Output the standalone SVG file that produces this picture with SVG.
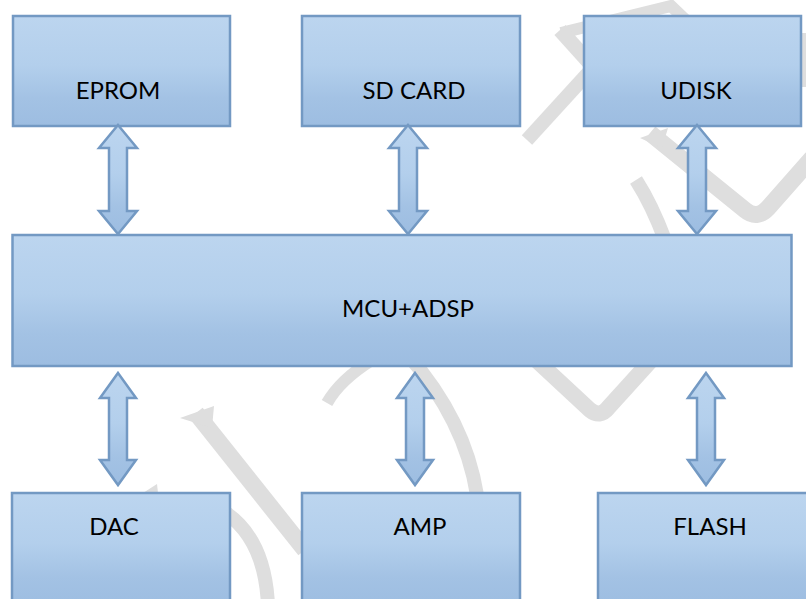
<svg xmlns="http://www.w3.org/2000/svg" width="806" height="599" viewBox="0 0 806 599">
<defs>
<linearGradient id="g" x1="0" y1="0" x2="0" y2="1">
<stop offset="0" stop-color="#bcd5ef"/>
<stop offset="0.45" stop-color="#b3cfec"/>
<stop offset="0.75" stop-color="#a3c2e4"/>
<stop offset="1" stop-color="#9dbde1"/>
</linearGradient>
<style>
.box{fill:url(#g);stroke:#7399c3;stroke-width:2.5}
.arr{fill:url(#g);stroke:#7399c3;stroke-width:2.5;stroke-linejoin:miter}
.lbl{font-family:Lato,"Open Sans","Liberation Sans",sans-serif;font-size:24px;fill:#000;text-anchor:middle}
.wm{fill:none;stroke:#dedede;stroke-linecap:butt}
.wmf{fill:#dedede}
</style>
</defs>
<rect width="806" height="599" fill="#fff"/>
<g id="watermark">
<path class="wm" d="M 561 33 L 671 6 L 712 45" stroke-width="12" stroke-linejoin="miter"/>
<path class="wm" d="M 560 30 L 605 80" stroke-width="15"/>
<path class="wm" d="M 527 140 L 600 60" stroke-width="14"/>
<path class="wm" d="M 650 133 L 745 210 Q 757 220 768 208 L 812 158" stroke-width="17"/>
<polygon class="wmf" points="640,138 668,128 662,148"/>
<path class="wm" d="M 636 180 Q 652 205 665 240" stroke-width="14"/>
<path class="wm" d="M 520 345 L 590 410 Q 600 418 608 408 L 665 345" stroke-width="16"/>
<path class="wm" d="M 327 403 Q 340 380 372 360" stroke-width="12"/>
<path class="wm" d="M 408 355 Q 465 420 477 495" stroke-width="14"/>
<path class="wm" d="M 196 413 L 305 550" stroke-width="17"/>
<polygon class="wmf" points="180,418 214,406 212,428"/>
<path class="wm" d="M 226 513 Q 265 540 268 605" stroke-width="14"/>
<polygon class="wmf" points="143,493 157,484 158,493"/>
<rect class="wmf" x="802" y="33" width="4" height="54"/>
</g>
<g id="node-eprom">
<rect class="box" x="13" y="16" width="217" height="110"/>
<text class="lbl" x="118" y="99">EPROM</text>
</g>
<g id="node-sdcard">
<rect class="box" x="302" y="16" width="218" height="110"/>
<text class="lbl" x="414" y="99">SD CARD</text>
</g>
<g id="node-udisk">
<rect class="box" x="584" y="16" width="217" height="110"/>
<text class="lbl" x="696" y="99">UDISK</text>
</g>
<g id="node-mcu">
<rect class="box" x="12.5" y="235" width="779" height="131"/>
<text class="lbl" x="408" y="317">MCU+ADSP</text>
</g>
<g id="node-dac">
<rect class="box" x="12" y="493" width="218" height="112"/>
<text class="lbl" x="114" y="535">DAC</text>
</g>
<g id="node-amp">
<rect class="box" x="302" y="493" width="218" height="112"/>
<text class="lbl" x="420" y="535">AMP</text>
</g>
<g id="node-flash">
<rect class="box" x="598" y="493" width="222" height="112"/>
<text class="lbl" x="710" y="535">FLASH</text>
</g>
<g id="connectors">
<path class="arr" d="M 118 125 L 137 148 L 127 148 L 127 211 L 137 211 L 118 234 L 99 211 L 109 211 L 109 148 L 99 148 Z"/>
<path class="arr" d="M 408 125 L 427 148 L 417 148 L 417 211 L 427 211 L 408 234 L 389 211 L 399 211 L 399 148 L 389 148 Z"/>
<path class="arr" d="M 697 125 L 716 148 L 706 148 L 706 211 L 716 211 L 697 234 L 678 211 L 688 211 L 688 148 L 678 148 Z"/>
<path class="arr" d="M 118 373 L 136 398 L 127 398 L 127 460 L 136 460 L 118 485 L 100 460 L 109 460 L 109 398 L 100 398 Z"/>
<path class="arr" d="M 415 373 L 433 398 L 424 398 L 424 460 L 433 460 L 415 485 L 397 460 L 406 460 L 406 398 L 397 398 Z"/>
<path class="arr" d="M 706 373 L 724 398 L 715 398 L 715 460 L 724 460 L 706 485 L 688 460 L 697 460 L 697 398 L 688 398 Z"/>
</g>
</svg>
